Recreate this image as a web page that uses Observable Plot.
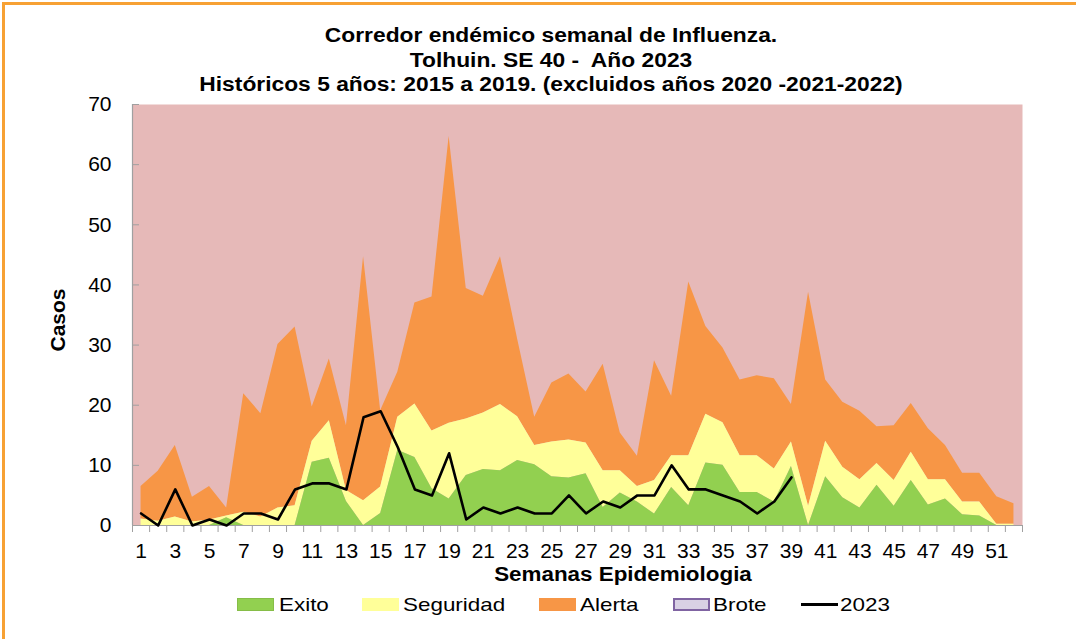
<!DOCTYPE html>
<html>
<head>
<meta charset="utf-8">
<script src="https://cdn.jsdelivr.net/npm/d3@7"></script>
<script src="https://cdn.jsdelivr.net/npm/@observablehq/plot@0.6"></script>
<style>
  body { margin: 0; background: #fff; font-family: "Liberation Sans", Arial, sans-serif; }
  #wrap { position: relative; width: 1076px; height: 639px; overflow: hidden; background: #fff; }
  #border { position: absolute; left: 2px; top: 2px; width: 1080px; height: 634px;
            border-top: 3px solid #f7a134; border-left: 3px solid #f7a134; border-bottom: 2px solid #fdf3e4; }
  #title { position: absolute; left: 0; top: 23px; width: 1102px; text-align: center;
           font-weight: bold; font-size: 20px; line-height: 24.5px; color: #000;
           white-space: pre; transform: scaleX(1.14); transform-origin: 551px 0; }
  #chart { position: absolute; left: 0; top: 90px; }
  #chart svg { background: transparent; }
  #xlabel { position: absolute; left: 423px; width: 400px; top: 568px; text-align: center;
            font-weight: bold; font-size: 20px; line-height: 12px; transform: scaleX(1.12);
            transform-origin: 200px 0; white-space: nowrap; }
  #ylabel { position: absolute; left: 57px; top: 320px; font-weight: bold; font-size: 21px;
            line-height: 21px; transform: translate(-50%, -50%) rotate(-90deg); white-space: nowrap; }
  .sw { position: absolute; top: 598px; width: 37px; height: 13px; box-sizing: border-box; }
  .lt { position: absolute; top: 595px; font-size: 19px; line-height: 19px; transform: scaleX(1.18);
        transform-origin: 0 0; white-space: nowrap; color: #000; }
</style>
</head>
<body>
<div id="wrap">
  <div id="border"></div>
  <div id="chart"></div>
  <div id="title"></div>
  <div id="xlabel"></div>
  <div id="ylabel"></div>
  <div id="legend"></div>
</div>
<script>
// ---- Data ----
const titleLines = [
  "Corredor endémico semanal de Influenza.",
  "Tolhuin. SE 40 -  Año 2023",
  "Históricos 5 años: 2015 a 2019. (excluidos años 2020 -2021-2022)"
];
const xTitle = "Semanas Epidemiologia";
const yTitle = "Casos";

const weeks = d3.range(1, 53);

// Upper boundary of each zone (cumulative)
const exito = [0, 0, 0, 0, 0, 1.3, 0, 0, 0, 0,
  10.5, 11.2, 4, 0, 2, 12.5, 11.3, 6.1, 4.4, 8.3,
  9.3, 9.1, 10.8, 10.1, 8.1, 7.9, 8.6, 3.0, 5.4, 3.9,
  1.9, 6.3, 3.3, 10.4, 10.0, 5.5, 5.5, 3.9, 9.8, 0,
  8.1, 4.6, 2.9, 6.7, 3.2, 7.5, 3.4, 4.4, 1.8, 1.6,
  0, 0];
const seguridad = [1.1, 0.7, 1.4, 0.6, 0.9, 1.6, 2.2, 1.4, 2.9, 3.3,
  14, 17.4, 5.8, 4.1, 6.4, 18, 20.2, 15.7, 17, 17.7,
  18.7, 20.1, 18.1, 13.3, 13.9, 14.2, 13.7, 9.1, 9.1, 6.5,
  7.5, 11.6, 11.6, 18.5, 17.1, 11.6, 11.6, 9.4, 13.9, 3.2,
  14.0, 9.7, 7.6, 10.3, 7.5, 12.2, 7.6, 7.6, 3.9, 3.9,
  0.2, 0.2];
const alerta = [6.5, 9.0, 13.3, 4.7, 6.5, 2.9, 21.9, 18.6, 30.1, 33.0,
  19.7, 27.7, 16.6, 44.7, 19.1, 25.5, 37, 38, 64.7, 39.4,
  38.1, 44.7, 31, 18, 23.7, 25.2, 22.2, 26.8, 15.4, 11.5,
  27.4, 21.5, 40.5, 33.1, 29.5, 24.2, 24.9, 24.4, 20.1, 38.8,
  24.2, 20.5, 19.0, 16.4, 16.6, 20.3, 16.1, 13.3, 8.7, 8.7,
  4.8, 3.6];
const casos2023 = [2, 0, 6, 0, 1, 0, 2, 2, 1, 6,
  7, 7, 6, 18, 19, 13, 6, 5, 12, 1,
  3, 2, 3, 2, 2, 5, 2, 4, 3, 5,
  5, 10, 6, 6, 5, 4, 2, 4, 8];

const yTicks = [0, 10, 20, 30, 40, 50, 60, 70];
const xTickLabels = weeks.filter(w => w % 2 === 1);

const seriesNames = ["Exito", "Seguridad", "Alerta", "Brote", "2023"];
const colors = {
  Exito: "#92d050", Seguridad: "#ffff99", Alerta: "#f79646",
  Brote: "#e6b9b8", BroteLegend: "#d9d1e4", BroteBorder: "#8064a2", line: "#000000"
};
const axisGray = "#a0a0a0";

// ---- Build tables ----
const table = weeks.map((w, i) => ({week: w, exito: exito[i], seguridad: seguridad[i], alerta: alerta[i]}));
const lineData = casos2023.map((v, i) => ({week: weeks[i], casos: v}));
const tickPositions = [weeks[0] - 0.5, ...weeks.map(w => w + 0.5)];

const chart = Plot.plot({
  width: 1076,
  height: 500,
  marginTop: 14,
  marginBottom: 65,
  marginLeft: 132,
  marginRight: 54,
  style: {fontFamily: "'Liberation Sans', Arial, sans-serif", fontSize: "21px", color: "#000", background: "transparent"},
  x: {domain: [0.5, 52.5]},
  y: {domain: [0, 70]},
  marks: [
    Plot.frame({fill: colors.Brote, stroke: "none"}),
    Plot.areaY(table, {x: "week", y1: "seguridad", y2: "alerta", fill: colors.Alerta}),
    Plot.areaY(table, {x: "week", y1: "exito", y2: "seguridad", fill: colors.Seguridad}),
    Plot.areaY(table, {x: "week", y1: 0, y2: "exito", fill: colors.Exito}),
    Plot.ruleY(yTicks, {x1: 0.5, x2: 52.5, insetRight: 883, stroke: axisGray}),
    Plot.axisX({ticks: tickPositions, tickSize: 7, tickFormat: () => "", stroke: axisGray, label: null}),
    Plot.axisX({ticks: xTickLabels, tickSize: 0, tickPadding: 18, fontSize: 21, label: null}),
    Plot.axisY({ticks: yTicks, tickSize: 0, tickPadding: 21, fontSize: 21, label: null}),
    Plot.ruleX([0.5], {stroke: axisGray, strokeWidth: 1.2}),
    Plot.ruleY([0], {stroke: axisGray, strokeWidth: 1.2}),
    Plot.line(lineData, {x: "week", y: "casos", stroke: colors.line, strokeWidth: 2.6})
  ]
});
document.getElementById("chart").appendChild(chart);

document.getElementById("title").textContent = titleLines.join("\n");
document.getElementById("xlabel").textContent = xTitle;
document.getElementById("ylabel").textContent = yTitle;

// ---- Legend ----
const legend = document.getElementById("legend");
const swatchX = [237, 362, 539, 673, 801];
const textX = [279, 403, 580, 713, 840];
seriesNames.forEach((name, i) => {
  const sw = document.createElement("div");
  sw.className = "sw";
  sw.style.left = swatchX[i] + "px";
  if (name === "2023") {
    sw.style.top = "603px";
    sw.style.height = "3px";
    sw.style.background = colors.line;
  } else if (name === "Brote") {
    sw.style.background = colors.BroteLegend;
    sw.style.border = "2px solid " + colors.BroteBorder;
  } else {
    sw.style.background = colors[name];
    if (name === "Exito") sw.style.border = "1px solid #86bd48";
  }
  legend.appendChild(sw);
  const t = document.createElement("div");
  t.className = "lt";
  t.style.left = textX[i] + "px";
  t.textContent = name;
  legend.appendChild(t);
});
</script>
</body>
</html>
